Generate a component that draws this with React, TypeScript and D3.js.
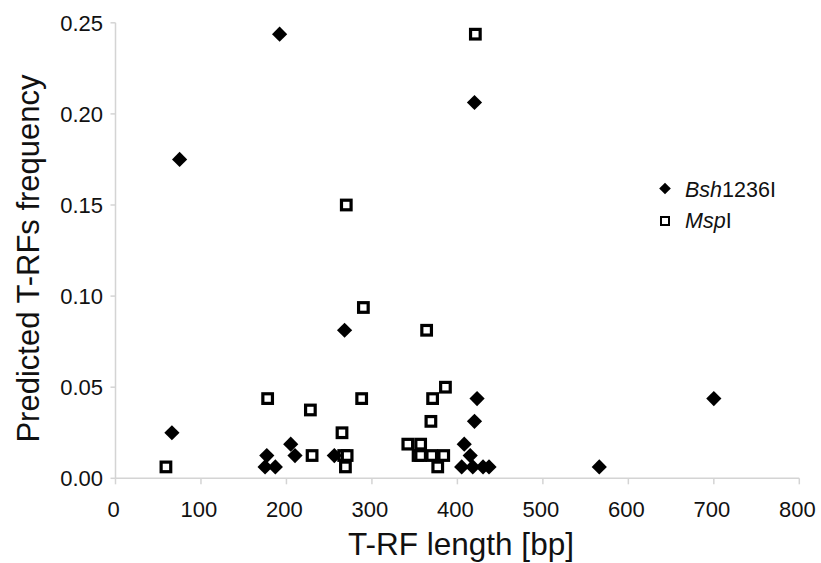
import React from "react";
import * as d3 from "d3";

const bshX = [66, 75, 175, 177, 187, 192, 205, 210, 256, 268, 405, 408, 415, 418, 420, 420, 423, 430, 437, 566, 700];
const bshY = [0.025, 0.175, 0.00625, 0.0125, 0.00625, 0.24375, 0.01875, 0.0125, 0.0125, 0.08125, 0.00625, 0.01875, 0.0125, 0.00625, 0.03125, 0.20625, 0.04375, 0.00625, 0.00625, 0.00625, 0.04375];

const mspX = [59, 178, 228, 230, 265, 267, 271, 269, 270, 288, 290, 342, 354, 357, 357, 364, 369, 370, 371, 377, 384, 386, 421];
const mspY = [0.00625, 0.04375, 0.0375, 0.0125, 0.025, 0.0125, 0.0125, 0.00625, 0.15, 0.04375, 0.09375, 0.01875, 0.0125, 0.01875, 0.0125, 0.08125, 0.03125, 0.0125, 0.04375, 0.00625, 0.0125, 0.05, 0.24375];

const xTicks = [0, 100, 200, 300, 400, 500, 600, 700, 800];
const yTicks = [0, 0.05, 0.1, 0.15, 0.2, 0.25];

const W = 821;
const H = 563;
const FONT = "'Liberation Sans', Arial, Helvetica, sans-serif";

export default function App() {
  const x = d3.scaleLinear().domain([0, 800]).range([115.5, 799.3]);
  const y = d3.scaleLinear().domain([0, 0.25]).range([478.3, 22.8]);
  const axisColor = "#d4d4d4";
  const diamond = "M0,-7.6L7.6,0L0,7.6L-7.6,0Z";
  const legDiamond = "M0,-5.8L5.8,0L0,5.8L-5.8,0Z";
  const bsh = bshX.map((v, i) => ({ x: v, y: bshY[i] }));
  const msp = mspX.map((v, i) => ({ x: v, y: mspY[i] }));
  return (
    <div style={{ position: "absolute", left: 0, top: 0 }}>
      <svg width={W} height={H} style={{ display: "block", background: "#fff" }} fontFamily={FONT}>
        <rect x={0} y={0} width={W} height={H} fill="#fff" />
        {/* axes */}
        <line x1={x(0)} x2={x(800)} y1={y(0)} y2={y(0)} stroke={axisColor} strokeWidth={1.5} />
        <line x1={x(0)} x2={x(0)} y1={y(0)} y2={y(0.25)} stroke={axisColor} strokeWidth={1.5} />
        {xTicks.map((t) => (
          <g key={"xt" + t}>
            <line x1={x(t)} x2={x(t)} y1={y(0)} y2={y(0) + 6} stroke={axisColor} strokeWidth={1.5} />
            <text x={x(t) - 2} y={517} textAnchor="middle" fontSize={22} fill="#111">
              {t}
            </text>
          </g>
        ))}
        {yTicks.map((t) => (
          <g key={"yt" + t}>
            <line x1={x(0) - 5} x2={x(0)} y1={y(t)} y2={y(t)} stroke={axisColor} strokeWidth={1.5} />
            <text x={103} y={y(t)} dy="0.36em" textAnchor="end" fontSize={22} fill="#111">
              {t.toFixed(2)}
            </text>
          </g>
        ))}
        <text x={461} y={555} textAnchor="middle" fontSize={31.5} fill="#111">
          T-RF length [bp]
        </text>
        <text transform="translate(39,258.5) rotate(-90)" textAnchor="middle" fontSize={31} fill="#111">
          Predicted T-RFs frequency
        </text>
        {/* MspI squares */}
        {msp.map((d, i) => (
          <rect key={"m" + i} x={x(d.x) - 4.8} y={y(d.y) - 4.8} width={9.6} height={9.6} fill="#fff" stroke="#000" strokeWidth={3.2} />
        ))}
        {/* Bsh1236I diamonds */}
        {bsh.map((d, i) => (
          <path key={"b" + i} d={diamond} transform={`translate(${x(d.x)},${y(d.y)})`} fill="#000" />
        ))}
        {/* legend */}
        <path d={legDiamond} transform="translate(665,188.5)" fill="#000" />
        <text x={685} y={197} fontSize={21.5} fill="#111">
          <tspan fontStyle="italic">Bsh</tspan>1236I
        </text>
        <rect x={661} y={217} width={8} height={8} fill="#fff" stroke="#000" strokeWidth={2} />
        <text x={685} y={228} fontSize={21.5} fill="#111">
          <tspan fontStyle="italic">Msp</tspan>I
        </text>
      </svg>
    </div>
  );
}
